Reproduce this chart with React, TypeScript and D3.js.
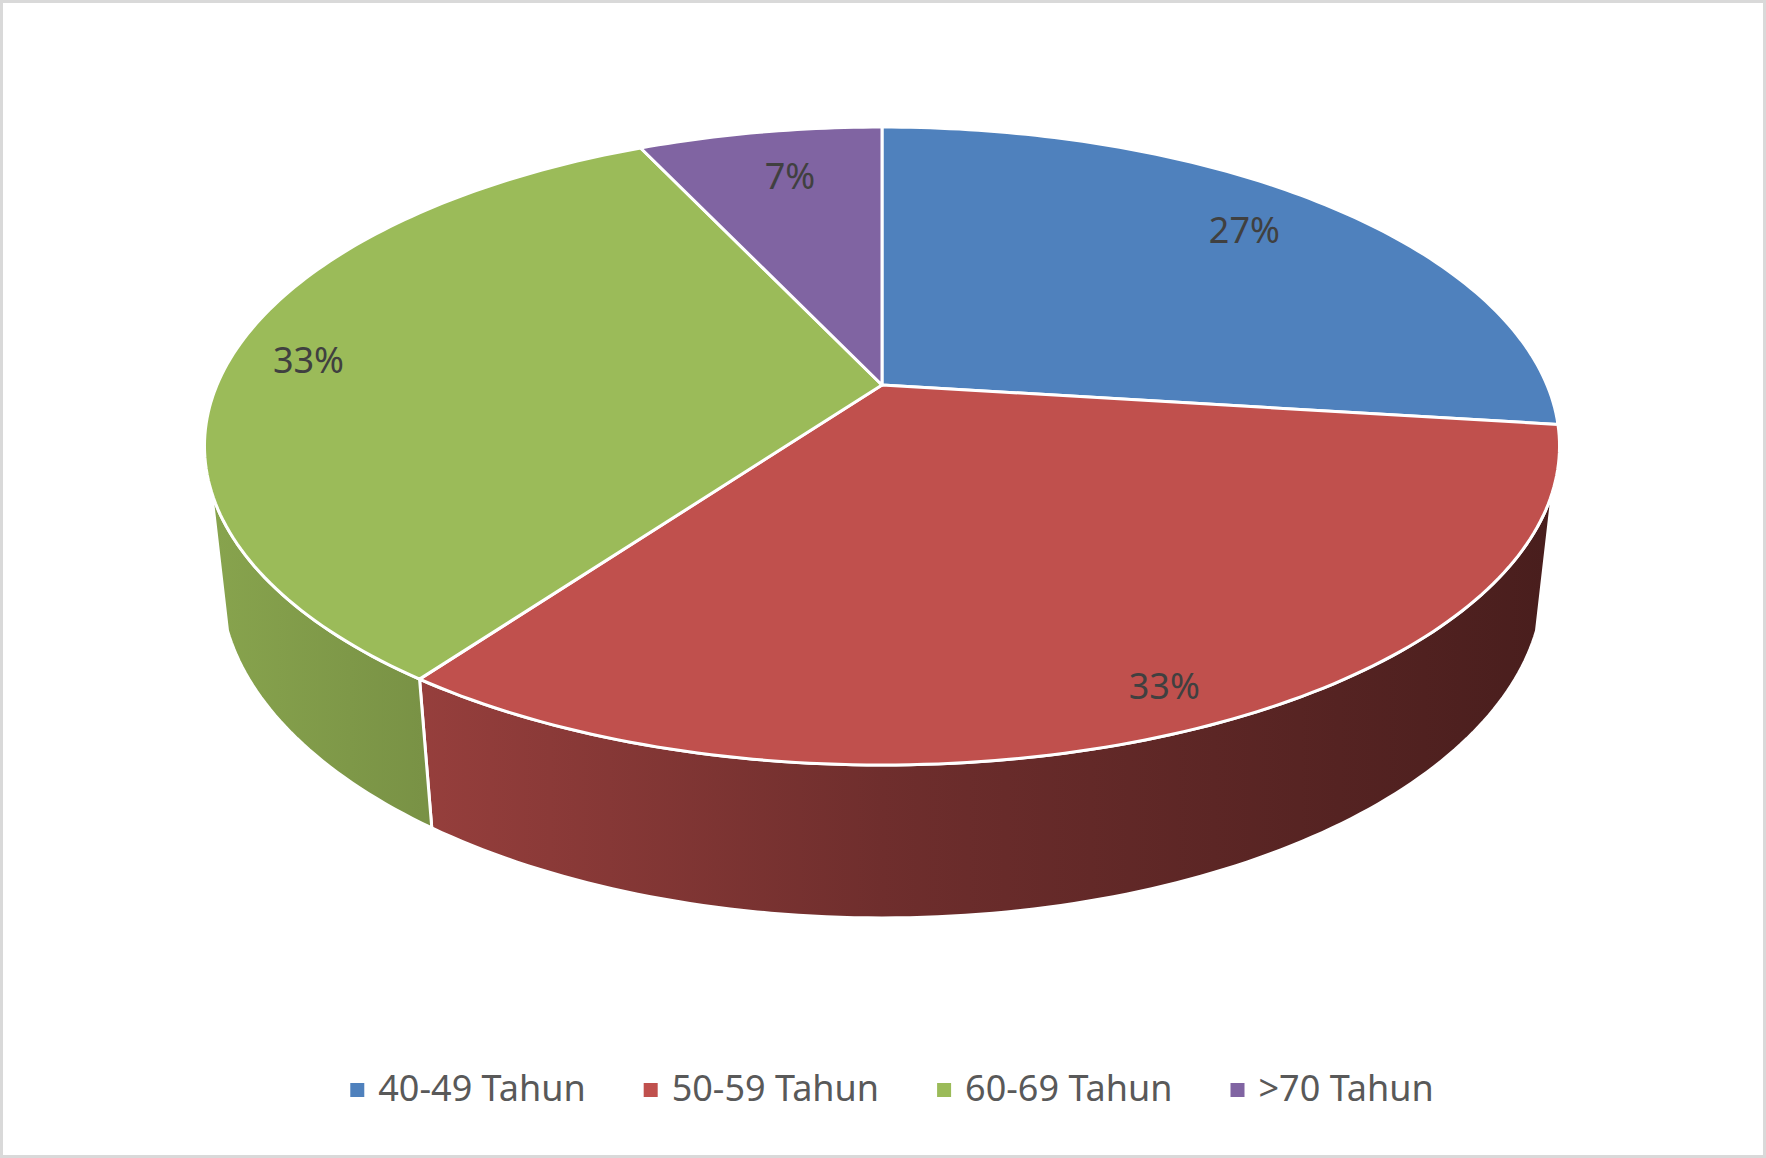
import React, { useEffect, useRef } from 'react';
import * as d3 from 'd3';

// Age groups and their shares (percent)
const categories = ['40-49 Tahun', '50-59 Tahun', '60-69 Tahun', '>70 Tahun'];
const percentages = [27, 33, 33, 7];
const labels = ['27%', '33%', '33%', '7%'];
const colors = ['#4F81BD', '#C0504D', '#9BBB59', '#8064A2'];

interface Slice {
  category: string;
  value: number;
  label: string;
  color: string;
}

const WIDTH = 1766;
const HEIGHT = 1158;

// perspective camera fitted to the 3D pie
const cam = { cx: 882, cy: 385, F: 3083, D: 4.636, s: 0.4621, c: 0.8868, h: 0.2305 };
// outer wall is drawn where cos(angle) < -wallCut (Excel hides the grazing part)
const wallCut = 0.3256;
// how far in from the rim each data label sits, plus a small nudge in px
const labelRadius = [0.8, 0.9, 0.88, 0.8];
const labelNudge: [number, number][] = [[0, -7], [0, 0], [0, 0], [9, 0]];

function project(phi: number, r: number, y: number): [number, number] {
  const X = r * Math.sin(phi);
  const Z = -r * Math.cos(phi);
  const depth = cam.D - y * cam.s - Z * cam.c;
  return [cam.cx + (cam.F * X) / depth, cam.cy + (cam.F * (Z * cam.s - y * cam.c)) / depth];
}

function arcPoints(a0: number, a1: number, r: number, y: number): [number, number][] {
  const n = Math.max(2, Math.ceil(((a1 - a0) * 180) / Math.PI));
  return d3.range(n + 1).map(i => project(a0 + ((a1 - a0) * i) / n, r, y));
}

export default function App() {
  const svgRef = useRef<SVGSVGElement>(null);

  useEffect(() => {
    if (!svgRef.current) return;
    const svg = d3.select(svgRef.current);
    svg.selectAll('*').remove();

    const data: Slice[] = categories.map((category, i) => ({
      category,
      value: percentages[i],
      label: labels[i],
      color: colors[i],
    }));

    const pie = d3.pie<Slice>().value(d => d.value).sort(null).startAngle(0).endAngle(2 * Math.PI);
    const arcs = pie(data);
    const line = d3.line<[number, number]>().x(p => p[0]).y(p => p[1]);

    // background + frame
    svg.append('rect').attr('width', WIDTH).attr('height', HEIGHT).attr('fill', '#ffffff');
    svg.append('rect')
      .attr('x', 1.5).attr('y', 1.5)
      .attr('width', WIDTH - 3).attr('height', HEIGHT - 3)
      .attr('fill', 'none').attr('stroke', '#D9D9D9').attr('stroke-width', 3);

    // wall gradients (lighter on the left, darker on the right)
    const [leftX] = project((3 * Math.PI) / 2, 1, 0);
    const [rightX] = project(Math.PI / 2, 1, 0);
    const defs = svg.append('defs');
    arcs.forEach((a, i) => {
      const base = d3.rgb(a.data.color);
      const shade = (k: number) => d3.rgb(base.r * k, base.g * k, base.b * k).formatHex();
      const g = defs.append('linearGradient')
        .attr('id', `wall-${i}`)
        .attr('gradientUnits', 'userSpaceOnUse')
        .attr('x1', leftX).attr('x2', rightX)
        .attr('y1', 0).attr('y2', 0);
      g.append('stop').attr('offset', '0%').attr('stop-color', shade(0.87));
      g.append('stop').attr('offset', '50%').attr('stop-color', shade(0.58));
      g.append('stop').attr('offset', '100%').attr('stop-color', shade(0.38));
    });

    // visible part of the outer wall
    const visMin = Math.acos(-wallCut);
    const visMax = 2 * Math.PI - visMin;
    const walls = svg.append('g');
    arcs.forEach((a, i) => {
      const a0 = Math.max(a.startAngle, visMin);
      const a1 = Math.min(a.endAngle, visMax);
      if (a1 <= a0) return;
      const top = arcPoints(a0, a1, 1, 0);
      const bottom = arcPoints(a0, a1, 1, -cam.h).reverse();
      walls.append('path')
        .attr('d', line([...top, ...bottom]) + 'Z')
        .attr('fill', `url(#wall-${i})`)
        .attr('stroke', '#ffffff')
        .attr('stroke-width', 3)
        .attr('stroke-linejoin', 'round');
    });

    // top faces
    const tops = svg.append('g');
    arcs.forEach(a => {
      const pts = [project(0, 0, 0), ...arcPoints(a.startAngle, a.endAngle, 1, 0)];
      tops.append('path')
        .attr('d', line(pts) + 'Z')
        .attr('fill', a.data.color)
        .attr('stroke', '#ffffff')
        .attr('stroke-width', 3)
        .attr('stroke-linejoin', 'round');
    });

    // data labels
    arcs.forEach((a, i) => {
      const mid = (a.startAngle + a.endAngle) / 2;
      const [x, y] = project(mid, labelRadius[i], 0);
      svg.append('text')
        .attr('x', x + labelNudge[i][0])
        .attr('y', y + 13 + labelNudge[i][1])
        .attr('text-anchor', 'middle')
        .style('font-family', '"Noto Sans", sans-serif')
        .style('font-size', '36px')
        .attr('fill', '#404040')
        .text(a.data.label);
    });

    // legend
    const legend = svg.append('g');
    let cursor = 0;
    data.forEach(d => {
      const item = legend.append('g').attr('transform', `translate(${cursor},0)`);
      item.append('rect')
        .attr('x', 0).attr('y', -18)
        .attr('width', 14).attr('height', 14)
        .attr('fill', d.color);
      const t = item.append('text')
        .attr('x', 28).attr('y', 0)
        .style('font-family', '"Noto Sans", sans-serif')
        .style('font-size', '36px')
        .attr('fill', '#595959')
        .text(d.category);
      const w = (t.node() as SVGTextElement).getComputedTextLength();
      cursor += 28 + w + 58;
    });
    const total = cursor - 58;
    legend.attr('transform', `translate(${892 - total / 2},1101)`);
  }, []);

  return (
    <svg
      ref={svgRef}
      width={WIDTH}
      height={HEIGHT}
      style={{ position: 'absolute', left: 0, top: 0, display: 'block' }}
    />
  );
}
